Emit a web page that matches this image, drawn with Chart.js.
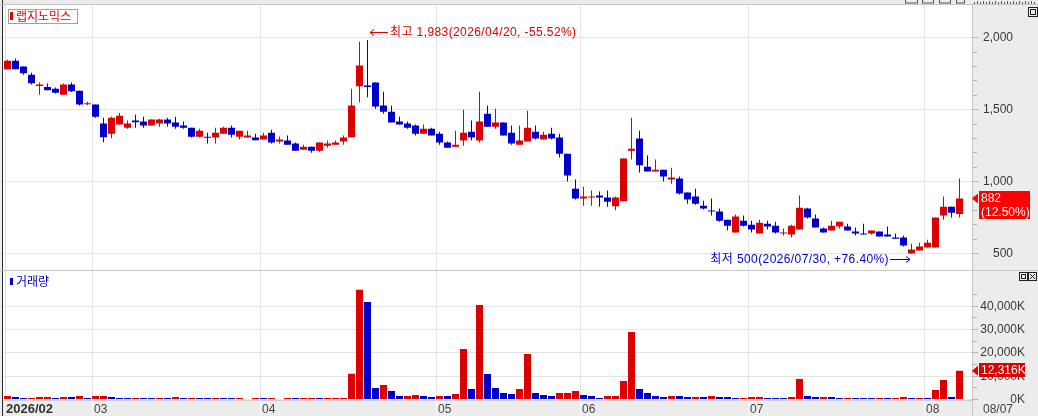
<!DOCTYPE html>
<html lang="ko">
<head>
<meta charset="utf-8">
<title>랩지노믹스</title>
<script src="https://cdn.jsdelivr.net/npm/chart.js@4/dist/chart.umd.min.js"></script>
<style>
  html, body { margin: 0; padding: 0; background: #ececec; }
  #wrap { position: relative; width: 1038px; height: 416px; overflow: hidden; }
  #wrap canvas { position: absolute; left: 0; }
  #price { top: 0; }
  #volume { top: 271px; }
</style>
</head>
<body>
<div id="wrap">
  <canvas id="price" width="1038" height="271"></canvas>
  <canvas id="volume" width="1038" height="145"></canvas>
</div>
<script>
const stockName = "랩지노믹스";
const volumeName = "거래량";

const dates = [
  "2026/02/10","2026/02/11","2026/02/12","2026/02/13","2026/02/19","2026/02/20","2026/02/23","2026/02/24","2026/02/25","2026/02/26","2026/02/27",
  "2026/03/03","2026/03/04","2026/03/05","2026/03/06","2026/03/09","2026/03/10","2026/03/11","2026/03/12","2026/03/13","2026/03/16","2026/03/17",
  "2026/03/18","2026/03/19","2026/03/20","2026/03/23","2026/03/24","2026/03/25","2026/03/26","2026/03/27","2026/03/30","2026/03/31",
  "2026/04/01","2026/04/02","2026/04/03","2026/04/06","2026/04/07","2026/04/08","2026/04/09","2026/04/10","2026/04/13","2026/04/14","2026/04/15",
  "2026/04/16","2026/04/17","2026/04/20","2026/04/21","2026/04/22","2026/04/23","2026/04/24","2026/04/27","2026/04/28","2026/04/29","2026/04/30",
  "2026/05/04","2026/05/06","2026/05/07","2026/05/08","2026/05/11","2026/05/12","2026/05/13","2026/05/14","2026/05/15","2026/05/18","2026/05/19",
  "2026/05/20","2026/05/21","2026/05/22","2026/05/26","2026/05/27","2026/05/28","2026/05/29",
  "2026/06/01","2026/06/02","2026/06/04","2026/06/05","2026/06/08","2026/06/09","2026/06/10","2026/06/11","2026/06/12","2026/06/15","2026/06/16",
  "2026/06/17","2026/06/18","2026/06/19","2026/06/22","2026/06/23","2026/06/24","2026/06/25","2026/06/26","2026/06/29","2026/06/30",
  "2026/07/01","2026/07/02","2026/07/03","2026/07/06","2026/07/07","2026/07/08","2026/07/09","2026/07/10","2026/07/13","2026/07/14","2026/07/15",
  "2026/07/16","2026/07/20","2026/07/21","2026/07/22","2026/07/23","2026/07/24","2026/07/27","2026/07/28","2026/07/29","2026/07/30","2026/07/31",
  "2026/08/03","2026/08/04","2026/08/05","2026/08/06","2026/08/07"
];

const opens = [
  1780,1840,1799,1743,1664,1657,1646,1604,1674,1632,1537,
  1535,1403,1333,1396,1375,1424,1417,1389,1403,1431,1410,1389,1375,1312,1310,1306,1333,1375,1312,1306,1306,
  1292,1340,1278,1285,1264,1222,1243,1215,1250,1257,1278,1308,1662,1667,1688,1528,1486,1417,1403,1389,1333,1368,
  1333,1271,1243,1285,1347,1285,1472,1382,1410,1340,1257,1278,1347,1292,1333,1306,1194,951,
  882,889,903,889,829,863,1215,1299,1104,1070,1083,1014,1021,924,896,833,799,792,736,646,729,
  701,639,708,694,639,632,667,813,743,674,660,688,688,653,639,639,653,632,611,611,500,521,
  542,542,764,826,775
];
const highs = [
  1847,1855,1799,1757,1688,1681,1653,1681,1688,1632,1555,
  1535,1444,1451,1477,1424,1465,1451,1431,1437,1444,1451,1417,1375,1368,1340,1375,1382,1389,1354,1354,1333,
  1340,1361,1313,1320,1271,1257,1243,1271,1285,1285,1320,1646,1972,1983,1688,1625,1528,1451,1417,1396,1396,1375,
  1347,1278,1354,1500,1424,1625,1528,1507,1410,1389,1389,1493,1389,1347,1375,1333,1194,1014,
  965,938,931,938,896,1160,1444,1354,1181,1153,1083,1097,1035,924,951,868,882,813,736,771,764,
  729,736,729,722,674,701,903,819,771,681,729,722,708,681,708,660,653,688,639,625,569,576,
  597,750,896,826,1021
];
const lows = [
  1780,1780,1743,1674,1604,1634,1613,1604,1623,1528,1530,
  1444,1273,1301,1396,1368,1375,1375,1389,1382,1382,1368,1368,1306,1306,1264,1264,1333,1306,1292,1306,1287,
  1292,1264,1264,1257,1215,1222,1201,1208,1236,1257,1257,1308,1551,1586,1507,1472,1410,1396,1368,1320,1333,1320,
  1257,1236,1243,1250,1285,1271,1382,1368,1320,1257,1257,1278,1292,1292,1292,1167,1000,875,
  833,833,826,826,801,863,1153,1063,1070,1070,1000,986,910,847,840,806,764,722,660,646,688,
  646,639,667,639,625,611,667,743,681,646,660,674,660,625,632,632,618,618,604,549,500,521,
  542,542,736,750,750
];
const closes = [
  1840,1780,1752,1683,1674,1634,1618,1674,1627,1535,1541,
  1451,1308,1444,1458,1403,1412,1389,1431,1431,1403,1382,1375,1312,1354,1305,1340,1375,1326,1354,1320,1287,
  1320,1271,1292,1257,1215,1243,1215,1271,1264,1271,1306,1528,1806,1658,1521,1486,1410,1396,1375,1333,1368,1320,
  1271,1236,1257,1340,1306,1417,1382,1410,1320,1264,1285,1375,1299,1326,1299,1194,1042,882,
  896,893,889,861,889,1160,1229,1113,1070,1083,1035,1028,917,875,847,813,792,729,694,757,694,
  667,715,688,646,646,694,819,750,681,646,694,722,660,639,632,660,618,618,604,556,528,549,
  576,750,826,784,882
];
// 거래량 (천주, K)
const volumes = [
  1500,1050,650,660,1050,1060,650,1050,1040,1500,650,
  1500,1510,1050,660,650,660,650,640,660,650,1050,660,670,660,650,660,650,640,660,250,650,
  640,650,250,650,640,650,660,650,660,670,680,11000,47100,41800,4900,6200,3650,1500,1510,1950,1500,1050,
  1500,1490,2350,21700,4500,40500,10900,4900,2800,2350,4500,19500,2800,1950,1500,2800,2810,3650,
  1950,1500,650,1500,1510,7900,29000,4500,2800,1500,1050,1500,1490,1050,1060,1050,1500,1050,1040,650,660,
  1050,1060,650,640,630,1050,8800,1500,1050,1060,1050,650,660,650,640,630,650,640,650,1050,650,660,
  650,4100,8400,1050,12316
];

const priceTicks = [500, 1000, 1500, 2000];
const volumeTicks = [0, 10000, 20000, 30000, 40000];

const UP = "#dd0000";
const DOWN = "#0000cc";
const NUM_FONT = '12px "Liberation Sans", "Noto Sans CJK KR", sans-serif';
const BOLD_FONT = 'bold 13px "Liberation Sans", "Noto Sans CJK KR", sans-serif';
const KR_FONT = '12px "Noto Sans CJK KR", "Liberation Sans", sans-serif';

const n = dates.length;
const candleColors = closes.map((c, i) => (c >= opens[i] ? UP : DOWN));
const volumeColors = volumes.map((v, i) => (i === 0 || v >= volumes[i - 1] ? UP : DOWN));
const monthStarts = dates.map((d, i) => i).filter(i => i > 0 && dates[i].slice(5, 7) !== dates[i - 1].slice(5, 7));
const fmt = v => v.toLocaleString("en-US");
const pct = (a, b) => {
  const p = (a - b) / b * 100;
  return (p >= 0 ? "+" : "") + p.toFixed(2) + "%";
};

// 공통 배경: 회색 틀, 흰 패널, 월 구분선, 오른쪽 축 경계
function drawFrame(chart, top, bottom, lineBottom) {
  const { ctx, chartArea: a, scales: { x } } = chart;
  const right = Math.round(a.right);
  ctx.save();
  ctx.fillStyle = "#ececec";
  ctx.fillRect(0, 0, chart.width, chart.height);
  ctx.fillStyle = "#ffffff";
  ctx.fillRect(3, top, right - 3, bottom - top);
  ctx.fillStyle = "#dedede";
  ctx.fillRect(5, top, 1, bottom - top);
  monthStarts.forEach(i => {
    const px = x.getPixelForValue(i) - 3.5;
    ctx.fillStyle = "#e3e3e3";
    ctx.fillRect(px, top, 1, bottom - top);
    if (lineBottom > bottom) {
      ctx.fillStyle = "#f7f7f7";
      ctx.fillRect(px, bottom, 1, lineBottom - bottom);
    }
  });
  ctx.fillStyle = "#c4c4c4";
  ctx.fillRect(right, top, 1, chart.height - top);
  ctx.fillStyle = "#2b2b2b";
  ctx.fillRect(2, 0, 1, chart.height);
  ctx.restore();
}

function drawAxisTicks(chart, from, to, step, major) {
  const { ctx, chartArea: a, scales: { y } } = chart;
  const right = Math.round(a.right);
  ctx.save();
  ctx.fillStyle = "#b4b4b4";
  for (let v = from; v <= to; v += step) {
    const py = Math.floor(y.getPixelForValue(v));
    if (v % major === 0) ctx.fillRect(right, py, 6, 1);
    else ctx.fillRect(right + 1, py, 4, 1);
  }
  ctx.restore();
}

function drawArrow(ctx, from, tip, yy, color) {
  const d = tip > from ? -4 : 4;
  ctx.strokeStyle = color;
  ctx.lineWidth = 1;
  ctx.beginPath();
  ctx.moveTo(from, yy);
  ctx.lineTo(tip, yy);
  ctx.moveTo(tip + d, yy - 3);
  ctx.lineTo(tip, yy);
  ctx.lineTo(tip + d, yy + 3);
  ctx.stroke();
}

function drawMarker(ctx, left, cy, width, lines, color) {
  const top = Math.round(cy) - 8;
  ctx.fillStyle = color;
  ctx.beginPath();
  ctx.moveTo(left - 7, cy);
  ctx.lineTo(left - 1, cy - 5);
  ctx.lineTo(left - 1, cy + 5);
  ctx.closePath();
  ctx.fill();
  ctx.fillRect(left, top, width, lines.length * 14);
  ctx.fillStyle = "#ffffff";
  ctx.font = NUM_FONT;
  ctx.textAlign = "left";
  ctx.textBaseline = "middle";
  lines.forEach((t, i) => ctx.fillText(t, left + 2, top + 7.5 + i * 14));
}

const pricePanel = {
  id: "pricePanel",
  beforeDraw(chart) {
    const { ctx } = chart;
    drawFrame(chart, 5, 270, 270);
    ctx.save();
    ctx.fillStyle = "#c6c6c6";
    ctx.fillRect(0, 4, chart.width, 1);
    ctx.fillRect(0, 270, chart.width, 1);
    // 상단 툴바 일부
    ctx.strokeStyle = "#555";
    ctx.lineWidth = 1;
    [[905.5, 12], [922.5, 11], [939.5, 11], [956.5, 8]].forEach(([bx, w]) => ctx.strokeRect(bx, -6, w, 9));
    ctx.fillStyle = "#555";
    for (let tx = 974; tx < 1037; tx += 3) ctx.fillRect(tx, tx % 2 ? 1 : 2, 1, tx % 2 ? 3 : 2);
    ctx.restore();
    drawAxisTicks(chart, 500, 2000, 100, 500);
  },
  afterDraw(chart) {
    const { ctx, scales: { x, y } } = chart;
    ctx.save();
    // 범례
    ctx.fillStyle = "#ffffff";
    ctx.fillRect(8, 9, 70, 15);
    ctx.strokeStyle = "#a0a0a0";
    ctx.lineWidth = 1;
    ctx.strokeRect(8.5, 9.5, 69, 14);
    ctx.fillStyle = "#e60000";
    ctx.fillRect(10, 12, 3, 8);
    ctx.font = KR_FONT;
    ctx.textAlign = "left";
    ctx.textBaseline = "middle";
    ctx.fillText(stockName, 16, 16.5);

    const last = closes[n - 1];
    const prev = closes[n - 2];
    const hi = Math.max(...highs);
    const hiIdx = highs.indexOf(hi);
    const lo = Math.min(...lows);
    const loIdx = lows.indexOf(lo);

    ctx.font = NUM_FONT;
    ctx.letterSpacing = "0.4px";

    // 최고
    const hx = x.getPixelForValue(hiIdx) + 2.5;
    const hy = Math.round(y.getPixelForValue(hi)) - 7.5;
    drawArrow(ctx, hx + 18, hx, hy, UP);
    ctx.fillStyle = UP;
    ctx.textAlign = "left";
    ctx.fillText("최고 " + fmt(hi) + "(" + dates[hiIdx] + ", " + pct(last, hi) + ")", hx + 20, hy + 0.5);

    // 최저
    const lx = x.getPixelForValue(loIdx) - 1.5;
    const ly = Math.round(y.getPixelForValue(lo)) + 5.5;
    drawArrow(ctx, lx - 20, lx, ly, DOWN);
    ctx.fillStyle = DOWN;
    ctx.textAlign = "right";
    ctx.fillText("최저 " + fmt(lo) + "(" + dates[loIdx] + ", " + pct(last, lo) + ")", lx - 21, ly + 0.5);
    ctx.letterSpacing = "0px";

    // 현재가
    const chg = ((last - prev) / prev * 100).toFixed(2);
    drawMarker(ctx, 979, y.getPixelForValue(last), 51, [fmt(last), "(" + chg + "%)"], "#ff0000");

    // 창 아이콘
    ctx.strokeStyle = "#222";
    ctx.strokeRect(1028.5, 7.5, 9, 9);
    ctx.strokeRect(1030.5, 9.5, 5, 5);
    ctx.restore();
  }
};

const volumePanel = {
  id: "volumePanel",
  beforeDraw(chart) {
    const { ctx } = chart;
    drawFrame(chart, 0, 130, 145);
    ctx.save();
    ctx.fillStyle = "#d0d0d0";
    ctx.fillRect(3, 129, Math.round(chart.chartArea.right) - 3, 1);
    ctx.restore();
    drawAxisTicks(chart, 0, 45000, 5000, 10000);
  },
  afterDraw(chart) {
    const { ctx, scales: { x, y } } = chart;
    ctx.save();
    ctx.fillStyle = DOWN;
    ctx.fillRect(10, 7, 3, 7);
    ctx.font = KR_FONT;
    ctx.textAlign = "left";
    ctx.textBaseline = "middle";
    ctx.fillText(volumeName, 16, 10);

    // 날짜 축
    ctx.fillStyle = "#333";
    ctx.font = BOLD_FONT;
    ctx.fillText(dates[0].slice(0, 7), 6, 138.5);
    ctx.font = NUM_FONT;
    ctx.fillStyle = "#444";
    monthStarts.forEach(i => ctx.fillText(dates[i].slice(5, 7), x.getPixelForValue(i) - 1.5, 138.5));
    ctx.fillText(dates[n - 1].slice(5), 983, 138.5);

    // 현재 거래량
    drawMarker(ctx, 979, y.getPixelForValue(volumes[n - 1]), 46, [fmt(volumes[n - 1]) + "K"], "#dd0000");

    // 창 아이콘
    ctx.strokeStyle = "#222";
    ctx.lineWidth = 1;
    ctx.strokeRect(1019.5, 1.5, 8, 8);
    ctx.strokeRect(1021.5, 3.5, 4, 4);
    ctx.strokeRect(1028.5, 1.5, 8, 8);
    ctx.beginPath();
    ctx.moveTo(1030, 3); ctx.lineTo(1035, 8);
    ctx.moveTo(1035, 3); ctx.lineTo(1030, 8);
    ctx.stroke();
    ctx.restore();
  }
};

const xAxis = { type: "linear", display: false, offset: false, grid: { offset: false }, min: -0.5, max: n + 0.5 };
const barBase = { grouped: false, inflateAmount: 0, borderWidth: 0 };

new Chart(document.getElementById("price"), {
  type: "bar",
  data: {
    datasets: [
      { ...barBase, data: dates.map((d, i) => ({ x: i, y: [lows[i], highs[i]] })), backgroundColor: candleColors, barThickness: 1, order: 2 },
      { ...barBase, data: dates.map((d, i) => ({ x: i, y: [opens[i], closes[i]] })), backgroundColor: candleColors, barThickness: 7, minBarLength: 1, order: 1 }
    ]
  },
  options: {
    responsive: false,
    animation: false,
    events: [],
    layout: { padding: { left: 3.5, right: 25, top: 7, bottom: 3 } },
    plugins: { legend: { display: false }, tooltip: { enabled: false } },
    scales: {
      x: xAxis,
      y: {
        position: "right",
        min: 400,
        max: 2213,
        afterBuildTicks: s => { s.ticks = priceTicks.map(v => ({ value: v })); },
        afterFit: s => { s.width = 41.5; s.paddingTop = 0; s.paddingBottom = 0; },
        ticks: { callback: v => fmt(v), font: { family: '"Liberation Sans"', size: 12 }, color: "#383838", crossAlign: "far", padding: 0 },
        grid: { color: "#e3e3e3", drawTicks: true, tickLength: 11.5, tickColor: "rgba(0,0,0,0)" },
        border: { display: false }
      }
    }
  },
  plugins: [pricePanel]
});

new Chart(document.getElementById("volume"), {
  type: "bar",
  data: {
    datasets: [
      { ...barBase, data: dates.map((d, i) => ({ x: i, y: volumes[i] })), backgroundColor: volumeColors, barThickness: 7 }
    ]
  },
  options: {
    responsive: false,
    animation: false,
    events: [],
    layout: { padding: { left: 3.5, right: 13, top: 1, bottom: 16.5 } },
    plugins: { legend: { display: false }, tooltip: { enabled: false } },
    scales: {
      x: xAxis,
      y: {
        position: "right",
        min: 0,
        max: 54700,
        afterBuildTicks: s => { s.ticks = volumeTicks.map(v => ({ value: v })); },
        afterFit: s => { s.width = 53.5; s.paddingTop = 0; s.paddingBottom = 0; },
        ticks: { callback: v => fmt(v) + "K", font: { family: '"Liberation Sans"', size: 12 }, color: "#383838", crossAlign: "far", padding: 0 },
        grid: { color: "#e3e3e3", drawTicks: true, tickLength: 8.8, tickColor: "rgba(0,0,0,0)" },
        border: { display: false }
      }
    }
  },
  plugins: [volumePanel]
});
</script>
</body>
</html>
